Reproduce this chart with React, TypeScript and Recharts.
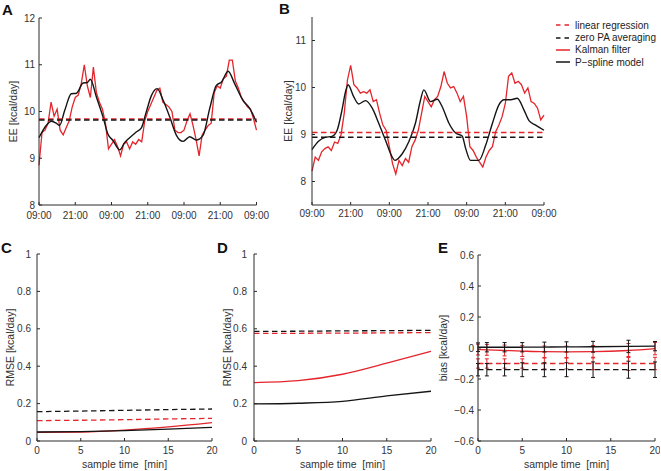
import { LineChart, Line, XAxis, YAxis, ErrorBar, Legend } from "recharts";

const RED = "#e4252b";
const BLACK = "#141414";
const AXIS = "#2a2a2a";
const TXT = "#333333";
const FONT = "'Liberation Sans', Arial, Helvetica, sans-serif";

// A/B: hours after the first 09:00
const timeTicks = [0, 12, 24, 36, 48, 60, 72];
const timeLabels = ["09:00", "21:00", "09:00", "21:00", "09:00", "21:00", "09:00"];

// panel A - Kalman filter, one value per hour
const kalmanA = [
  8.85, 9.55, 9.6, 9.75, 10.2, 9.9, 10.05, 9.6, 9.5, 9.65, 9.8, 10.1, 10.3, 10.35, 10.6, 11.0, 10.55, 10.3,
  10.95, 10.4, 10.2, 10.05, 9.75, 9.2, 9.3, 9.4, 9.25, 9.05, 9.3, 9.35, 9.2, 9.35, 9.3, 9.4, 9.35, 9.8, 10.0,
  10.15, 10.3, 10.45, 10.5, 10.2, 10.15, 10.1, 10.0, 9.6, 9.55, 9.55, 9.6, 9.8, 9.95, 9.7, 9.4, 9.05, 9.5,
  9.6, 9.7, 9.75, 10.4, 10.55, 10.5, 10.7, 10.75, 11.1, 11.1, 10.65, 10.5, 10.3, 10.2, 10.1, 10.05, 9.85, 9.6,
];
// panel A - P-spline model [hour, value]
const splineA: [number, number][] = [
  [0, 9.44], [2.4, 9.7], [4.1, 9.79], [5.7, 9.75], [6.8, 9.7], [8.5, 10.02], [10.7, 10.38], [12.4, 10.39],
  [14.6, 10.61], [16, 10.62], [17, 10.69], [19, 10.31], [21.2, 9.88], [22.8, 9.52], [24.5, 9.38], [26.7, 9.18],
  [28.4, 9.34], [30, 9.44], [32.2, 9.56], [33.9, 9.65], [35.5, 9.99], [37.2, 10.34], [39.1, 10.49],
  [41.1, 10.24], [43.3, 9.88], [45.5, 9.49], [47.7, 9.36], [49.9, 9.46], [52.1, 9.39], [54.3, 9.49],
  [56.5, 10.06], [58.7, 10.56], [60.4, 10.63], [62.6, 10.86], [64.8, 10.59], [67.5, 10.24], [69.8, 10.06],
  [72, 9.77],
];
const linRegA = 9.84;
const zeroPaA = 9.82;

// panel B
const kalmanB = [
  8.22, 8.52, 8.45, 8.63, 8.7, 8.74, 8.66, 8.84, 8.81, 8.99, 9.45, 10.16, 10.47, 10.06, 9.99, 9.88, 9.91, 9.88,
  9.95, 9.7, 9.74, 9.45, 9.2, 9.09, 8.74, 8.38, 8.16, 8.45, 8.34, 8.49, 8.41, 8.74, 8.88, 9.09, 9.45, 9.81, 9.7,
  9.59, 9.74, 9.81, 10.02, 10.34, 10.09, 9.99, 10.02, 9.88, 9.7, 9.81, 9.38, 8.74, 8.66, 8.52, 8.41, 8.31, 8.52,
  8.66, 8.74, 9.06, 9.2, 9.38, 9.66, 10.24, 10.31, 10.09, 10.13, 10.06, 9.88, 9.99, 9.7, 9.66, 9.56, 9.31, 9.41,
];
const splineB: [number, number][] = [
  [0, 8.68], [2.1, 8.86], [4.1, 8.94], [6.2, 8.96], [7.8, 9.09], [9.3, 9.52], [10.4, 9.91], [11.2, 10.06],
  [12.9, 9.81], [14.5, 9.65], [16.6, 9.72], [18.7, 9.56], [20.7, 9.24], [22.8, 8.88], [24.9, 8.52], [25.7, 8.45],
  [28, 8.59], [30, 8.84], [32.1, 9.24], [33.7, 9.74], [34.7, 9.95], [36.8, 9.7], [38.9, 9.75], [40.4, 9.59],
  [42.5, 9.24], [44.6, 9.03], [46.6, 8.97], [47.7, 8.7], [49.2, 8.45], [51.8, 8.45], [53.9, 8.77], [56, 9.24],
  [58, 9.63], [59.6, 9.74], [61.7, 9.74], [63.7, 9.77], [65.8, 9.52], [67.4, 9.29], [69.4, 9.2], [72, 9.09],
];
const linRegB = 9.04;
const zeroPaB = 8.94;

// C-E: sample time [min]
const rmseTimes = [0, 5, 10, 15, 20];
const rmseCLinReg = [0.109, 0.111, 0.114, 0.118, 0.121];
const rmseCZeroPa = [0.157, 0.16, 0.164, 0.168, 0.171];
const rmseCKalman = [0.046, 0.048, 0.058, 0.075, 0.098];
const rmseCSpline = [0.048, 0.05, 0.055, 0.063, 0.073];

const rmseDLinReg = [0.575, 0.576, 0.577, 0.578, 0.58];
const rmseDZeroPa = [0.586, 0.587, 0.589, 0.59, 0.592];
const rmseDKalman = [0.3125, 0.323, 0.357, 0.416, 0.479];
const rmseDSpline = [0.198, 0.202, 0.212, 0.241, 0.266];

const sampleTimes = [0, 1, 3, 5, 7.5, 10, 13, 17, 20];
const biasLinReg = [-0.1, -0.1, -0.1, -0.1, -0.1, -0.1, -0.1, -0.1, -0.1];
const biasLinRegErr = [0.03, 0.03, 0.03, 0.03, 0.035, 0.035, 0.04, 0.045, 0.04];
const biasZeroPa = [-0.14, -0.14, -0.14, -0.14, -0.14, -0.14, -0.14, -0.14, -0.14];
const biasZeroPaErr = [0.04, 0.04, 0.04, 0.045, 0.045, 0.045, 0.05, 0.055, 0.05];
const biasKalman = [-0.01, -0.012, -0.016, -0.02, -0.024, -0.025, -0.024, -0.016, -0.004];
const biasKalmanErr = [0.035, 0.035, 0.035, 0.035, 0.037, 0.037, 0.04, 0.045, 0.04];
const biasSpline = [0.005, 0.005, 0.005, 0.005, 0.006, 0.007, 0.008, 0.01, 0.012];
const biasSplineErr = [0.028, 0.03, 0.03, 0.03, 0.032, 0.033, 0.035, 0.04, 0.03];

const eeTicksA = [8, 9, 10, 11, 12];
const eeTicksB = [8, 9, 10, 11];
const rmseTicks = [0, 0.2, 0.4, 0.6, 0.8, 1];
const rmseLabels = ["0", "0.2", "0.4", "0.6", "0.8", "1"];
const minTicks = [0, 5, 10, 15, 20];
const biasTicks = [-0.6, -0.4, -0.2, 0, 0.2, 0.4, 0.6];
const biasLabels = ["\u22120.6", "\u22120.4", "\u22120.2", "0", "0.2", "0.4", "0.6"];

const legendNames = ["linear regression", "zero PA averaging", "Kalman filter", "P\u2212spline model"];

// ---- helpers ----
const hourly = (vals: number[]) => vals.map((v, i) => ({ t: i, v }));
const pairs = (p: [number, number][]) => p.map(([t, v]) => ({ t, v }));
const flat = (v: number) => [{ t: 0, v }, { t: 72, v }];
const rows = (xs: number[], cols: Record<string, number[]>) =>
  xs.map((x, i) => {
    const r: Record<string, number> = { x };
    Object.keys(cols).forEach((k) => (r[k] = cols[k][i]));
    return r;
  });
const pick = (ticks: number[], labels: string[]) => (v: number) => labels[ticks.indexOf(v)] ?? String(v);

const legendStyle: Record<string, { color: string; dash: boolean }> = {
  "linear regression": { color: RED, dash: true },
  "zero PA averaging": { color: BLACK, dash: true },
  "Kalman filter": { color: RED, dash: false },
  "P\u2212spline model": { color: BLACK, dash: false },
};

type Box = { x: number; y: number; w: number; h: number };
const PL = 40;
const PT = 10;
const PB = 30;

const tickStyle = { fill: TXT, fontSize: 10, fontFamily: FONT };
const axisProps = {
  axisLine: { stroke: AXIS, strokeWidth: 1 },
  tickLine: { stroke: AXIS, strokeWidth: 1 },
  tickSize: -3,
  tick: tickStyle,
  interval: 0 as const,
};
const yLabel = (value: string, offset: number) => ({
  value,
  angle: -90,
  position: "insideLeft" as const,
  offset,
  fill: TXT,
  fontSize: 10.5,
  fontFamily: FONT,
  style: { textAnchor: "middle" as const },
});
const xLabel = {
  value: "sample time\u00a0 [min]",
  position: "insideBottom" as const,
  offset: 3,
  fill: TXT,
  fontSize: 10.5,
  fontFamily: FONT,
};

const frame = (b: Box, padR = 8) => ({
  pos: { position: "absolute" as const, left: b.x - PL, top: b.y - PT },
  width: b.w + PL + padR,
  height: b.h + PT + PB,
  margin: { top: PT, right: padR, bottom: 0, left: 0 },
});

const boxA: Box = { x: 38.5, y: 18, w: 217.5, h: 187 };
const boxB: Box = { x: 312, y: 17, w: 232, h: 188 };
const boxC: Box = { x: 37, y: 254, w: 175, h: 187 };
const boxD: Box = { x: 254, y: 254, w: 177, h: 187 };
const boxE: Box = { x: 478, y: 255, w: 177, h: 186 };

const dash = "5.5 3.5";

const LegendBox = () => (
  <div style={{ fontFamily: FONT, fontSize: 10, color: "#222" }}>
    {legendNames.map((n) => (
      <div key={n} style={{ display: "flex", alignItems: "center", height: 12.4, whiteSpace: "nowrap" }}>
        <svg width={14} height={4} style={{ display: "block" }}>
          <line
            x1={0}
            y1={2}
            x2={14}
            y2={2}
            stroke={legendStyle[n].color}
            strokeWidth={1.5}
            strokeDasharray={legendStyle[n].dash ? "4.5 4" : undefined}
          />
        </svg>
        <span style={{ marginLeft: 5 }}>{n}</span>
      </div>
    ))}
  </div>
);

function Letter({ ch, x, y }: { ch: string; x: number; y: number }) {
  return (
    <div style={{ position: "absolute", left: x, top: y, fontFamily: FONT, fontWeight: "bold", fontSize: 15, color: "#111" }}>
      {ch}
    </div>
  );
}

function EEChart({ box, kalman, spline, lr, zero, domain, ticks, tm, xtm, labelOff, padR, legend }: any) {
  const f = frame(box, padR);
  return (
    <div style={f.pos}>
      <LineChart width={f.width} height={f.height} margin={f.margin}>
        <XAxis
          type="number"
          dataKey="t"
          domain={[0, 72]}
          ticks={timeTicks}
          tickFormatter={pick(timeTicks, timeLabels)}
          height={PB}
          tickMargin={xtm}
          {...axisProps}
        />
        <YAxis
          type="number"
          domain={domain}
          ticks={ticks}
          width={PL}
          tickMargin={tm}
          label={yLabel("EE [kcal/day]", labelOff)}
          {...axisProps}
        />
        <Line data={hourly(kalman)} dataKey="v" name="Kalman filter" stroke={RED} strokeWidth={1.3} dot={false} type="linear" isAnimationActive={false} />
        <Line data={pairs(spline)} dataKey="v" name="P-spline model" stroke={BLACK} strokeWidth={1.4} dot={false} type="monotone" isAnimationActive={false} />
        <Line data={flat(lr)} dataKey="v" name="linear regression" stroke={RED} strokeWidth={1.5} strokeDasharray={dash} dot={false} isAnimationActive={false} />
        <Line data={flat(zero)} dataKey="v" name="zero PA averaging" stroke={BLACK} strokeWidth={1.5} strokeDasharray={dash} dot={false} isAnimationActive={false} />
        {legend && (
          <Legend
            layout="vertical"
            align="center"
            verticalAlign="middle"
            content={() => <LegendBox />}
            wrapperStyle={{ position: "absolute", left: 556 - (box.x - PL), top: 19 - (box.y - PT), width: 110 }}
          />
        )}
      </LineChart>
    </div>
  );
}

function RmseChart({ box, data, tm, labelOff }: any) {
  const f = frame(box);
  return (
    <div style={f.pos}>
      <LineChart width={f.width} height={f.height} margin={f.margin} data={data}>
        <XAxis type="number" dataKey="x" domain={[0, 20]} ticks={minTicks} height={PB} tickMargin={9} label={xLabel} {...axisProps} />
        <YAxis
          type="number"
          domain={[0, 1]}
          ticks={rmseTicks}
          tickFormatter={pick(rmseTicks, rmseLabels)}
          width={PL}
          tickMargin={tm}
          label={yLabel("RMSE [kcal/day]", labelOff)}
          {...axisProps}
        />
        <Line dataKey="lr" stroke={RED} strokeWidth={1.3} strokeDasharray={dash} dot={false} isAnimationActive={false} />
        <Line dataKey="zero" stroke={BLACK} strokeWidth={1.3} strokeDasharray={dash} dot={false} isAnimationActive={false} />
        <Line dataKey="kal" type="monotone" stroke={RED} strokeWidth={1.3} dot={false} isAnimationActive={false} />
        <Line dataKey="spl" type="monotone" stroke={BLACK} strokeWidth={1.3} dot={false} isAnimationActive={false} />
      </LineChart>
    </div>
  );
}

export default function App() {
  const cRows = rows(rmseTimes, { lr: rmseCLinReg, zero: rmseCZeroPa, kal: rmseCKalman, spl: rmseCSpline });
  const dRows = rows(rmseTimes, { lr: rmseDLinReg, zero: rmseDZeroPa, kal: rmseDKalman, spl: rmseDSpline });
  const eRows = rows(sampleTimes, {
    lr: biasLinReg,
    lrErr: biasLinRegErr,
    zero: biasZeroPa,
    zeroErr: biasZeroPaErr,
    kal: biasKalman,
    kalErr: biasKalmanErr,
    spl: biasSpline,
    splErr: biasSplineErr,
  });
  const fE = frame(boxE, 5);

  return (
    <div style={{ position: "absolute", left: 0, top: 0, width: 661, height: 471, background: "#fff", overflow: "hidden" }}>
      <EEChart
        box={boxA}
        kalman={kalmanA}
        spline={splineA}
        lr={linRegA}
        zero={zeroPaA}
        domain={[8, 12]}
        ticks={eeTicksA}
        tm={7}
        xtm={10}
        labelOff={14.5}
        padR={22}
      />
      <EEChart
        box={boxB}
        kalman={kalmanB}
        spline={splineB}
        lr={linRegB}
        zero={zeroPaB}
        domain={[7.5, 11.5]}
        ticks={eeTicksB}
        tm={9}
        xtm={8}
        labelOff={16}
        padR={661 - (boxB.x + boxB.w)}
        legend
      />
      <RmseChart box={boxC} data={cRows} tm={9} labelOff={13} />
      <RmseChart box={boxD} data={dRows} tm={10} labelOff={13} />

      <div style={fE.pos}>
        <LineChart width={fE.width} height={fE.height} margin={fE.margin} data={eRows}>
          <XAxis type="number" dataKey="x" domain={[0, 20]} ticks={minTicks} height={PB} tickMargin={9} label={xLabel} {...axisProps} />
          <YAxis
            type="number"
            domain={[-0.6, 0.6]}
            ticks={biasTicks}
            tickFormatter={pick(biasTicks, biasLabels)}
            width={PL}
            tickMargin={7}
            label={yLabel("bias [kcal/day]", 5)}
            {...axisProps}
          />
          <Line dataKey="lr" stroke={RED} strokeWidth={1.3} strokeDasharray={dash} dot={false} isAnimationActive={false}>
            <ErrorBar dataKey="lrErr" width={2} stroke={RED} strokeWidth={1} direction="y" />
          </Line>
          <Line dataKey="zero" stroke={BLACK} strokeWidth={1.3} strokeDasharray={dash} dot={false} isAnimationActive={false}>
            <ErrorBar dataKey="zeroErr" width={2} stroke={BLACK} strokeWidth={1} direction="y" />
          </Line>
          <Line dataKey="kal" type="monotone" stroke={RED} strokeWidth={1.3} dot={false} isAnimationActive={false}>
            <ErrorBar dataKey="kalErr" width={2} stroke={RED} strokeWidth={1} direction="y" />
          </Line>
          <Line dataKey="spl" type="monotone" stroke={BLACK} strokeWidth={1.3} dot={false} isAnimationActive={false}>
            <ErrorBar dataKey="splErr" width={2} stroke={BLACK} strokeWidth={1} direction="y" />
          </Line>
        </LineChart>
      </div>

      <Letter ch="A" x={2} y={1} />
      <Letter ch="B" x={279} y={0} />
      <Letter ch="C" x={1} y={239} />
      <Letter ch="D" x={217} y={239} />
      <Letter ch="E" x={438} y={239} />
    </div>
  );
}
